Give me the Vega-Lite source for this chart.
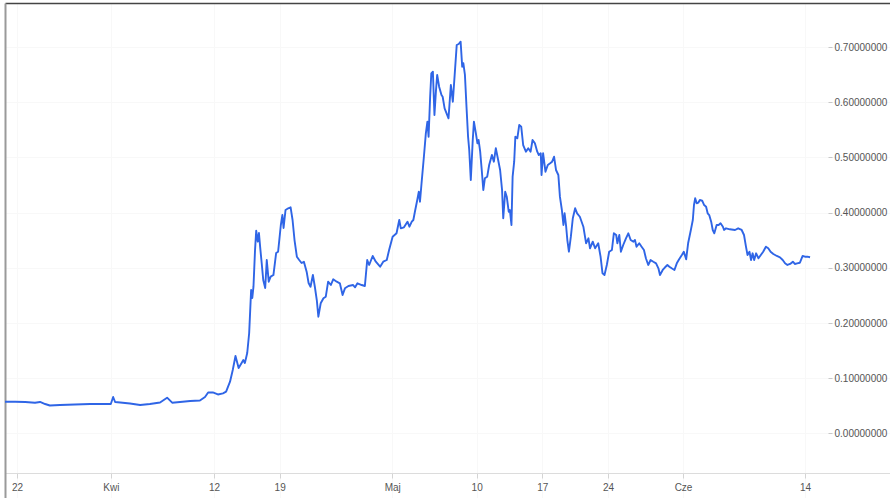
{
  "$schema": "https://vega.github.io/schema/vega-lite/v6.json",
  "width": 885,
  "height": 495,
  "padding": {"left": 5, "top": 3, "right": 0, "bottom": 0},
  "autosize": {"type": "none"},
  "background": "white",
  "view": {"stroke": null},
  "config": {"font": "Liberation Sans"},
  "data": {"values": [
    {"t":"2021-03-20T17:20Z","v":0.0576},{"t":"2021-03-21T19:00Z","v":0.0576},{"t":"2021-03-22T21:00Z","v":0.0571},{"t":"2021-03-23T22:00Z","v":0.0558},{"t":"2021-03-24T11:00Z","v":0.0571},{"t":"2021-03-25T00:00Z","v":0.0534},{"t":"2021-03-25T12:00Z","v":0.0507},{"t":"2021-03-26T14:00Z","v":0.0516},{"t":"2021-03-28T04:00Z","v":0.0525},{"t":"2021-03-29T19:00Z","v":0.0534},{"t":"2021-03-31T09:00Z","v":0.0534},{"t":"2021-04-01T00:00Z","v":0.0534},{"t":"2021-04-01T06:00Z","v":0.0661},{"t":"2021-04-01T11:00Z","v":0.0571},{"t":"2021-04-02T00:00Z","v":0.0562},{"t":"2021-04-03T01:00Z","v":0.0543},{"t":"2021-04-04T03:00Z","v":0.0516},{"t":"2021-04-05T04:00Z","v":0.0534},{"t":"2021-04-06T06:00Z","v":0.0562},{"t":"2021-04-07T00:00Z","v":0.0649},{"t":"2021-04-07T13:00Z","v":0.0558},{"t":"2021-04-08T09:00Z","v":0.0571},{"t":"2021-04-09T11:00Z","v":0.0589},{"t":"2021-04-10T12:00Z","v":0.0598},{"t":"2021-04-11T01:00Z","v":0.0661},{"t":"2021-04-11T09:00Z","v":0.0743},{"t":"2021-04-11T21:00Z","v":0.0743},{"t":"2021-04-12T10:00Z","v":0.0707},{"t":"2021-04-12T23:00Z","v":0.0728},{"t":"2021-04-13T07:00Z","v":0.0757},{"t":"2021-04-13T17:00Z","v":0.0938},{"t":"2021-04-14T00:00Z","v":0.1150},{"t":"2021-04-14T07:00Z","v":0.1404},{"t":"2021-04-14T15:00Z","v":0.1187},{"t":"2021-04-14T23:00Z","v":0.1283},{"t":"2021-04-15T03:00Z","v":0.1332},{"t":"2021-04-15T07:00Z","v":0.1277},{"t":"2021-04-15T13:00Z","v":0.1458},{"t":"2021-04-15T18:00Z","v":0.1821},{"t":"2021-04-15T23:00Z","v":0.2600},{"t":"2021-04-16T02:00Z","v":0.2455},{"t":"2021-04-16T05:00Z","v":0.2659},{"t":"2021-04-16T09:00Z","v":0.3324},{"t":"2021-04-16T12:00Z","v":0.3674},{"t":"2021-04-16T16:00Z","v":0.3475},{"t":"2021-04-16T19:00Z","v":0.3632},{"t":"2021-04-16T22:00Z","v":0.3384},{"t":"2021-04-17T02:00Z","v":0.3089},{"t":"2021-04-17T06:00Z","v":0.2781},{"t":"2021-04-17T11:00Z","v":0.2636},{"t":"2021-04-17T15:00Z","v":0.3143},{"t":"2021-04-17T20:00Z","v":0.2750},{"t":"2021-04-18T01:00Z","v":0.2841},{"t":"2021-04-18T08:00Z","v":0.2871},{"t":"2021-04-18T15:00Z","v":0.3270},{"t":"2021-04-18T20:00Z","v":0.3293},{"t":"2021-04-19T03:00Z","v":0.3777},{"t":"2021-04-19T07:00Z","v":0.3958},{"t":"2021-04-19T10:00Z","v":0.3723},{"t":"2021-04-19T15:00Z","v":0.4049},{"t":"2021-04-19T22:00Z","v":0.4080},{"t":"2021-04-20T04:00Z","v":0.4098},{"t":"2021-04-20T09:00Z","v":0.3868},{"t":"2021-04-20T14:00Z","v":0.3505},{"t":"2021-04-20T20:00Z","v":0.3203},{"t":"2021-04-21T02:00Z","v":0.3143},{"t":"2021-04-21T08:00Z","v":0.3089},{"t":"2021-04-21T14:00Z","v":0.3112},{"t":"2021-04-21T21:00Z","v":0.2931},{"t":"2021-04-22T02:00Z","v":0.2726},{"t":"2021-04-22T07:00Z","v":0.2659},{"t":"2021-04-22T13:00Z","v":0.2871},{"t":"2021-04-22T18:00Z","v":0.2659},{"t":"2021-04-22T23:00Z","v":0.2418},{"t":"2021-04-23T03:00Z","v":0.2116},{"t":"2021-04-23T09:00Z","v":0.2359},{"t":"2021-04-23T16:00Z","v":0.2449},{"t":"2021-04-23T22:00Z","v":0.2478},{"t":"2021-04-24T04:00Z","v":0.2750},{"t":"2021-04-24T11:00Z","v":0.2690},{"t":"2021-04-24T17:00Z","v":0.2793},{"t":"2021-04-25T02:00Z","v":0.2750},{"t":"2021-04-25T10:00Z","v":0.2721},{"t":"2021-04-25T17:00Z","v":0.2509},{"t":"2021-04-25T23:00Z","v":0.2630},{"t":"2021-04-26T08:00Z","v":0.2672},{"t":"2021-04-26T20:00Z","v":0.2690},{"t":"2021-04-27T01:00Z","v":0.2649},{"t":"2021-04-27T07:00Z","v":0.2721},{"t":"2021-04-27T18:00Z","v":0.2690},{"t":"2021-04-28T02:00Z","v":0.2672},{"t":"2021-04-28T08:00Z","v":0.3143},{"t":"2021-04-28T13:00Z","v":0.3053},{"t":"2021-04-28T22:00Z","v":0.3216},{"t":"2021-04-29T06:00Z","v":0.3112},{"t":"2021-04-29T17:00Z","v":0.3022},{"t":"2021-04-30T01:00Z","v":0.3112},{"t":"2021-04-30T10:00Z","v":0.3143},{"t":"2021-04-30T16:00Z","v":0.3324},{"t":"2021-05-01T01:00Z","v":0.3565},{"t":"2021-05-01T11:00Z","v":0.3627},{"t":"2021-05-01T18:00Z","v":0.3868},{"t":"2021-05-01T22:00Z","v":0.3717},{"t":"2021-05-02T06:00Z","v":0.3735},{"t":"2021-05-02T15:00Z","v":0.3837},{"t":"2021-05-02T20:00Z","v":0.3746},{"t":"2021-05-03T02:00Z","v":0.3837},{"t":"2021-05-03T06:00Z","v":0.3868},{"t":"2021-05-03T10:00Z","v":0.4018},{"t":"2021-05-03T16:00Z","v":0.4230},{"t":"2021-05-03T20:00Z","v":0.4380},{"t":"2021-05-03T23:00Z","v":0.4199},{"t":"2021-05-04T03:00Z","v":0.4533},{"t":"2021-05-04T09:00Z","v":0.5014},{"t":"2021-05-04T14:00Z","v":0.5438},{"t":"2021-05-04T18:00Z","v":0.5649},{"t":"2021-05-04T21:00Z","v":0.5377},{"t":"2021-05-05T01:00Z","v":0.6101},{"t":"2021-05-05T04:00Z","v":0.6525},{"t":"2021-05-05T08:00Z","v":0.6554},{"t":"2021-05-05T12:00Z","v":0.5770},{"t":"2021-05-05T16:00Z","v":0.6223},{"t":"2021-05-05T19:00Z","v":0.6495},{"t":"2021-05-06T00:00Z","v":0.6283},{"t":"2021-05-06T06:00Z","v":0.6132},{"t":"2021-05-06T09:00Z","v":0.6101},{"t":"2021-05-06T14:00Z","v":0.5891},{"t":"2021-05-06T19:00Z","v":0.5801},{"t":"2021-05-07T00:00Z","v":0.5710},{"t":"2021-05-07T06:00Z","v":0.6313},{"t":"2021-05-07T11:00Z","v":0.6011},{"t":"2021-05-07T16:00Z","v":0.6525},{"t":"2021-05-07T21:00Z","v":0.7038},{"t":"2021-05-08T02:00Z","v":0.7056},{"t":"2021-05-08T07:00Z","v":0.7098},{"t":"2021-05-08T11:00Z","v":0.6645},{"t":"2021-05-08T14:00Z","v":0.6707},{"t":"2021-05-08T18:00Z","v":0.6495},{"t":"2021-05-08T22:00Z","v":0.5920},{"t":"2021-05-09T02:00Z","v":0.5377},{"t":"2021-05-09T05:00Z","v":0.5136},{"t":"2021-05-09T09:00Z","v":0.4592},{"t":"2021-05-09T14:00Z","v":0.5317},{"t":"2021-05-09T17:00Z","v":0.5649},{"t":"2021-05-09T22:00Z","v":0.5438},{"t":"2021-05-10T02:00Z","v":0.5257},{"t":"2021-05-10T05:00Z","v":0.5317},{"t":"2021-05-10T09:00Z","v":0.5105},{"t":"2021-05-10T13:00Z","v":0.4774},{"t":"2021-05-10T17:00Z","v":0.4411},{"t":"2021-05-10T21:00Z","v":0.4623},{"t":"2021-05-11T03:00Z","v":0.4652},{"t":"2021-05-11T08:00Z","v":0.4864},{"t":"2021-05-11T15:00Z","v":0.5045},{"t":"2021-05-11T20:00Z","v":0.4924},{"t":"2021-05-12T01:00Z","v":0.5167},{"t":"2021-05-12T07:00Z","v":0.4955},{"t":"2021-05-12T12:00Z","v":0.4774},{"t":"2021-05-12T17:00Z","v":0.4411},{"t":"2021-05-12T20:00Z","v":0.3899},{"t":"2021-05-13T01:00Z","v":0.4380},{"t":"2021-05-13T05:00Z","v":0.4290},{"t":"2021-05-13T10:00Z","v":0.4018},{"t":"2021-05-13T13:00Z","v":0.4049},{"t":"2021-05-13T17:00Z","v":0.3777},{"t":"2021-05-13T20:00Z","v":0.4652},{"t":"2021-05-14T00:00Z","v":0.4924},{"t":"2021-05-14T03:00Z","v":0.5377},{"t":"2021-05-14T08:00Z","v":0.5348},{"t":"2021-05-14T13:00Z","v":0.5589},{"t":"2021-05-14T18:00Z","v":0.5558},{"t":"2021-05-14T23:00Z","v":0.5226},{"t":"2021-05-15T06:00Z","v":0.5105},{"t":"2021-05-15T12:00Z","v":0.5167},{"t":"2021-05-15T18:00Z","v":0.5105},{"t":"2021-05-15T23:00Z","v":0.5317},{"t":"2021-05-16T05:00Z","v":0.5257},{"t":"2021-05-16T11:00Z","v":0.5105},{"t":"2021-05-16T15:00Z","v":0.5045},{"t":"2021-05-16T20:00Z","v":0.5076},{"t":"2021-05-16T22:00Z","v":0.4683},{"t":"2021-05-17T02:00Z","v":0.5076},{"t":"2021-05-17T08:00Z","v":0.4743},{"t":"2021-05-17T14:00Z","v":0.4864},{"t":"2021-05-17T20:00Z","v":0.4895},{"t":"2021-05-18T01:00Z","v":0.4924},{"t":"2021-05-18T06:00Z","v":0.5014},{"t":"2021-05-18T11:00Z","v":0.4774},{"t":"2021-05-18T17:00Z","v":0.4683},{"t":"2021-05-18T21:00Z","v":0.4290},{"t":"2021-05-19T02:00Z","v":0.4049},{"t":"2021-05-19T06:00Z","v":0.3777},{"t":"2021-05-19T09:00Z","v":0.3989},{"t":"2021-05-19T13:00Z","v":0.3746},{"t":"2021-05-19T16:00Z","v":0.3505},{"t":"2021-05-19T20:00Z","v":0.3293},{"t":"2021-05-20T01:00Z","v":0.3565},{"t":"2021-05-20T06:00Z","v":0.3899},{"t":"2021-05-20T12:00Z","v":0.4080},{"t":"2021-05-20T17:00Z","v":0.3989},{"t":"2021-05-21T00:00Z","v":0.3927},{"t":"2021-05-21T09:00Z","v":0.3746},{"t":"2021-05-21T16:00Z","v":0.3446},{"t":"2021-05-21T22:00Z","v":0.3536},{"t":"2021-05-22T02:00Z","v":0.3355},{"t":"2021-05-22T09:00Z","v":0.3475},{"t":"2021-05-22T15:00Z","v":0.3355},{"t":"2021-05-22T23:00Z","v":0.3446},{"t":"2021-05-23T05:00Z","v":0.3203},{"t":"2021-05-23T10:00Z","v":0.2902},{"t":"2021-05-23T15:00Z","v":0.2871},{"t":"2021-05-23T21:00Z","v":0.3053},{"t":"2021-05-24T03:00Z","v":0.3293},{"t":"2021-05-24T10:00Z","v":0.3324},{"t":"2021-05-24T15:00Z","v":0.3627},{"t":"2021-05-24T21:00Z","v":0.3596},{"t":"2021-05-25T00:00Z","v":0.3446},{"t":"2021-05-25T05:00Z","v":0.3596},{"t":"2021-05-25T09:00Z","v":0.3293},{"t":"2021-05-25T15:00Z","v":0.3415},{"t":"2021-05-25T22:00Z","v":0.3536},{"t":"2021-05-26T04:00Z","v":0.3627},{"t":"2021-05-26T10:00Z","v":0.3505},{"t":"2021-05-26T17:00Z","v":0.3475},{"t":"2021-05-26T21:00Z","v":0.3505},{"t":"2021-05-27T01:00Z","v":0.3384},{"t":"2021-05-27T08:00Z","v":0.3446},{"t":"2021-05-27T14:00Z","v":0.3384},{"t":"2021-05-27T20:00Z","v":0.3324},{"t":"2021-05-28T01:00Z","v":0.3174},{"t":"2021-05-28T07:00Z","v":0.3053},{"t":"2021-05-28T13:00Z","v":0.3143},{"t":"2021-05-28T20:00Z","v":0.3112},{"t":"2021-05-29T03:00Z","v":0.3083},{"t":"2021-05-29T09:00Z","v":0.2993},{"t":"2021-05-29T13:00Z","v":0.2871},{"t":"2021-05-29T20:00Z","v":0.2962},{"t":"2021-05-30T02:00Z","v":0.3011},{"t":"2021-05-30T08:00Z","v":0.3053},{"t":"2021-05-30T13:00Z","v":0.3022},{"t":"2021-05-30T19:00Z","v":0.2993},{"t":"2021-05-31T02:00Z","v":0.2962},{"t":"2021-05-31T08:00Z","v":0.3083},{"t":"2021-05-31T14:00Z","v":0.3156},{"t":"2021-05-31T21:00Z","v":0.3234},{"t":"2021-06-01T02:00Z","v":0.3293},{"t":"2021-06-01T08:00Z","v":0.3156},{"t":"2021-06-01T13:00Z","v":0.3446},{"t":"2021-06-01T20:00Z","v":0.3687},{"t":"2021-06-02T01:00Z","v":0.3868},{"t":"2021-06-02T04:00Z","v":0.4139},{"t":"2021-06-02T07:00Z","v":0.4261},{"t":"2021-06-02T11:00Z","v":0.4170},{"t":"2021-06-02T15:00Z","v":0.4181},{"t":"2021-06-02T19:00Z","v":0.4230},{"t":"2021-06-03T01:00Z","v":0.4217},{"t":"2021-06-03T06:00Z","v":0.4139},{"t":"2021-06-03T11:00Z","v":0.4109},{"t":"2021-06-03T15:00Z","v":0.3989},{"t":"2021-06-03T19:00Z","v":0.3958},{"t":"2021-06-04T00:00Z","v":0.3837},{"t":"2021-06-04T04:00Z","v":0.3687},{"t":"2021-06-04T08:00Z","v":0.3627},{"t":"2021-06-04T14:00Z","v":0.3777},{"t":"2021-06-04T19:00Z","v":0.3777},{"t":"2021-06-05T00:00Z","v":0.3808},{"t":"2021-06-05T06:00Z","v":0.3746},{"t":"2021-06-05T09:00Z","v":0.3687},{"t":"2021-06-05T14:00Z","v":0.3717},{"t":"2021-06-06T00:00Z","v":0.3699},{"t":"2021-06-06T13:00Z","v":0.3687},{"t":"2021-06-06T21:00Z","v":0.3717},{"t":"2021-06-07T06:00Z","v":0.3687},{"t":"2021-06-07T12:00Z","v":0.3596},{"t":"2021-06-07T17:00Z","v":0.3384},{"t":"2021-06-07T21:00Z","v":0.3234},{"t":"2021-06-08T02:00Z","v":0.3293},{"t":"2021-06-08T06:00Z","v":0.3143},{"t":"2021-06-08T10:00Z","v":0.3264},{"t":"2021-06-08T14:00Z","v":0.3143},{"t":"2021-06-08T19:00Z","v":0.3264},{"t":"2021-06-09T01:00Z","v":0.3174},{"t":"2021-06-09T07:00Z","v":0.3234},{"t":"2021-06-09T13:00Z","v":0.3293},{"t":"2021-06-09T20:00Z","v":0.3384},{"t":"2021-06-10T02:00Z","v":0.3355},{"t":"2021-06-10T08:00Z","v":0.3293},{"t":"2021-06-10T15:00Z","v":0.3252},{"t":"2021-06-11T00:00Z","v":0.3216},{"t":"2021-06-11T08:00Z","v":0.3192},{"t":"2021-06-11T15:00Z","v":0.3143},{"t":"2021-06-11T21:00Z","v":0.3083},{"t":"2021-06-12T03:00Z","v":0.3053},{"t":"2021-06-12T10:00Z","v":0.3071},{"t":"2021-06-12T17:00Z","v":0.3112},{"t":"2021-06-12T22:00Z","v":0.3071},{"t":"2021-06-13T04:00Z","v":0.3083},{"t":"2021-06-13T11:00Z","v":0.3094},{"t":"2021-06-13T18:00Z","v":0.3216},{"t":"2021-06-14T00:00Z","v":0.3203},{"t":"2021-06-14T06:00Z","v":0.3203},{"t":"2021-06-14T13:00Z","v":0.3192}
  ]},
  "layer": [
    {
      "mark": {"type": "line", "color": "#2f65e6", "strokeWidth": 1.9, "strokeJoin": "round", "clip": true},
      "encoding": {
        "x": {
          "field": "t", "type": "temporal",
          "scale": {"type": "utc", "domain": [
            {"year": 2021, "month": 3, "date": 20, "hours": 17, "minutes": 18, "utc": true},
            {"year": 2021, "month": 6, "date": 23, "hours": 1, "minutes": 30, "utc": true}
          ]},
          "axis": {
            "orient": "bottom", "offset": -25, "title": null,
            "values": [
              {"year": 2021, "month": 3, "date": 22, "utc": true},
              {"year": 2021, "month": 4, "date": 1, "utc": true},
              {"year": 2021, "month": 4, "date": 12, "utc": true},
              {"year": 2021, "month": 4, "date": 19, "utc": true},
              {"year": 2021, "month": 5, "date": 1, "utc": true},
              {"year": 2021, "month": 5, "date": 10, "utc": true},
              {"year": 2021, "month": 5, "date": 17, "utc": true},
              {"year": 2021, "month": 5, "date": 24, "utc": true},
              {"year": 2021, "month": 6, "date": 1, "utc": true},
              {"year": 2021, "month": 6, "date": 14, "utc": true}
            ],
            "labelExpr": "utcdate(datum.value) == 1 ? ['Sty','Lut','Mar','Kwi','Maj','Cze','Lip','Sie','Wrz','Paź','Lis','Gru'][utcmonth(datum.value)] : '' + utcdate(datum.value)",
            "grid": true, "gridColor": "#f8f8f8",
            "domainColor": "#dcdcdc", "domainWidth": 1,
            "tickColor": "#d4d4d4", "tickSize": 5,
            "labelPadding": 4, "labelColor": "#555555", "labelFontSize": 10,
            "labelFlush": false, "labelOverlap": false
          }
        },
        "y": {
          "field": "v", "type": "quantitative",
          "scale": {"domain": [-0.11685, 0.77989], "nice": false, "zero": false},
          "axis": {
            "orient": "right", "offset": -62, "title": null,
            "values": [0, 0.1, 0.2, 0.3, 0.4, 0.5, 0.6, 0.7],
            "format": ".8f",
            "grid": true, "gridColor": "#f8f8f8",
            "domain": false,
            "tickColor": "#c8c8c8", "tickSize": 4,
            "labelPadding": 2, "labelColor": "#555555", "labelFontSize": 10
          }
        }
      }
    },
    {
      "mark": {"type": "line", "strokeOpacity": 0},
      "encoding": {
        "x": {
          "field": "t", "type": "temporal",
          "axis": {"orient": "top", "title": null, "ticks": false, "labels": false, "grid": false, "domain": true, "domainColor": "#444444", "domainWidth": 1.5}
        },
        "y": {
          "field": "v", "type": "quantitative",
          "axis": {"orient": "left", "title": null, "ticks": false, "labels": false, "grid": false, "domain": true, "domainColor": "#9a9a9a", "domainWidth": 2}
        }
      }
    }
  ],
  "resolve": {"axis": {"x": "independent", "y": "independent"}}
}
